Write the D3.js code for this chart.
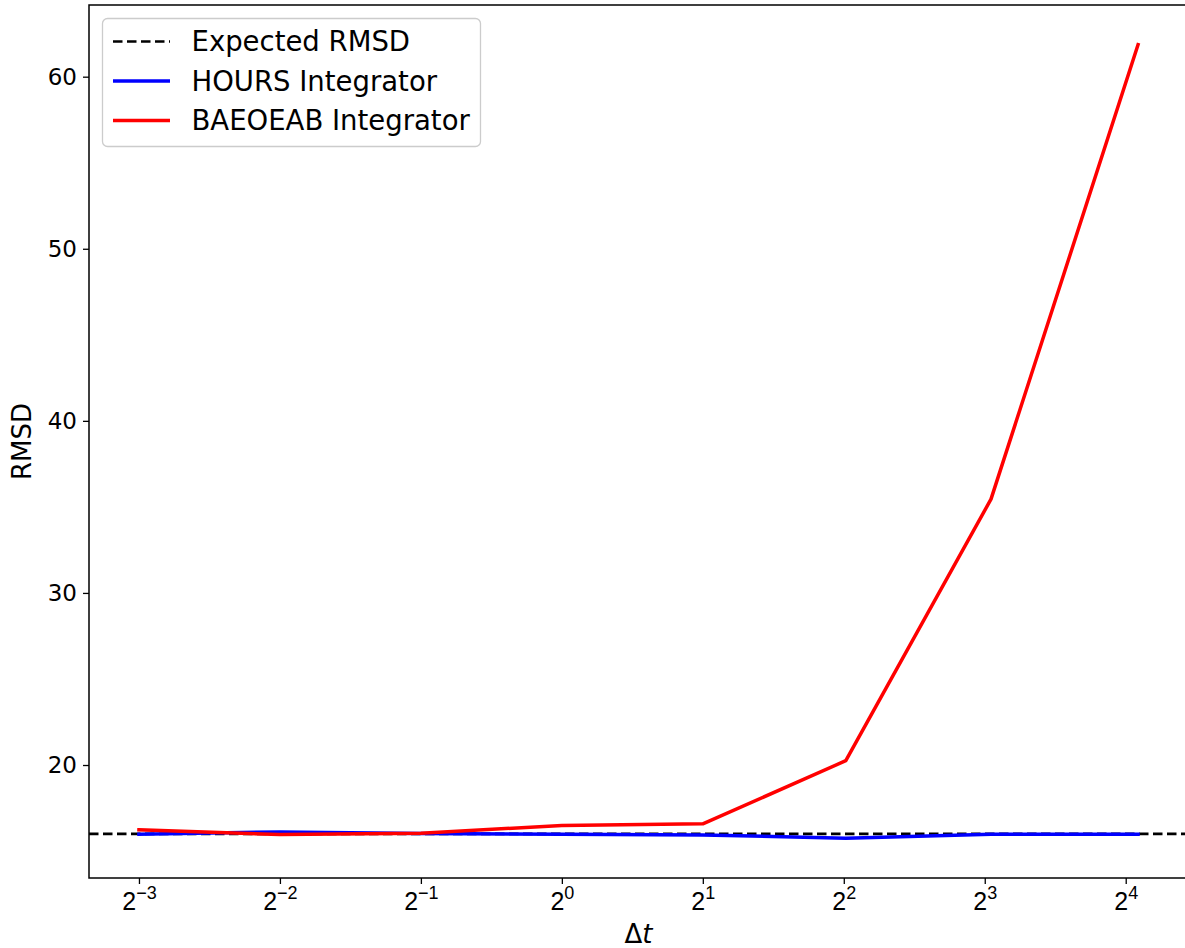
<!DOCTYPE html>
<html>
<head>
<meta charset="utf-8">
<script src="https://cdn.jsdelivr.net/npm/d3@7"></script>
<style>
  html, body { margin: 0; padding: 0; background: #fff; }
  svg { display: block; font-family: "DejaVu Sans", sans-serif; }
</style>
</head>
<body>
<svg id="chart" width="1185" height="948"></svg>
<script>
// Time steps (Δt) and RMSD per integrator
const timeSteps = [0.125, 0.25, 0.5, 1, 2, 4.04, 8.25, 17.0];
const hoursRMSD = [15.98, 16.11, 16.02, 15.97, 15.94, 15.74, 15.98, 15.98];
const baeoeabRMSD = [16.24, 15.96, 16.03, 16.49, 16.58, 20.25, 35.45, 61.86];
const expectedRMSD = 16.0;
const xTickExponents = [-3, -2, -1, 0, 1, 2, 3, 4];
const yTicks = [20, 30, 40, 50, 60];
const legendLabels = ["Expected RMSD", "HOURS Integrator", "BAEOEAB Integrator"];

const svg = d3.select("#chart");
const margin = { top: 5, left: 89 };
const plotW = 1099, plotH = 873;

// autoscale with 5% padding, in log2 space for x
const lx = timeSteps.map(Math.log2);
const lxMin = d3.min(lx), lxMax = d3.max(lx), lxPad = (lxMax - lxMin) * 0.05;
const x = d3.scaleLog().base(2)
  .domain([Math.pow(2, lxMin - lxPad), Math.pow(2, lxMax + lxPad)])
  .range([margin.left, margin.left + plotW]);

const allY = hoursRMSD.concat(baeoeabRMSD);
const yMin = d3.min(allY), yMax = d3.max(allY), yPad = (yMax - yMin) * 0.05;
const y = d3.scaleLinear()
  .domain([yMin - yPad, yMax + yPad])
  .range([margin.top + plotH, margin.top]);

const defs = svg.append("defs");
defs.append("clipPath").attr("id", "plotclip")
  .append("rect").attr("x", margin.left).attr("y", margin.top)
  .attr("width", plotW).attr("height", plotH);

const plot = svg.append("g").attr("clip-path", "url(#plotclip)");

// expected reference line across the whole axes
plot.append("line")
  .attr("x1", margin.left).attr("x2", margin.left + plotW)
  .attr("y1", y(expectedRMSD)).attr("y2", y(expectedRMSD))
  .attr("stroke", "#000").attr("stroke-width", 2.6)
  .attr("stroke-dasharray", "9.5,4.5");

const line = d3.line().x((d, i) => x(timeSteps[i])).y(d => y(d));

plot.append("path").datum(hoursRMSD)
  .attr("d", line).attr("fill", "none")
  .attr("stroke", "#0000ff").attr("stroke-width", 3.5)
  .attr("stroke-linecap", "square").attr("stroke-linejoin", "round");

plot.append("path").datum(baeoeabRMSD)
  .attr("d", line).attr("fill", "none")
  .attr("stroke", "#ff0000").attr("stroke-width", 3.5)
  .attr("stroke-linecap", "square").attr("stroke-linejoin", "round");

// axes
const xAxis = d3.axisBottom(x)
  .tickValues(xTickExponents.map(e => Math.pow(2, e)))
  .tickSize(6).tickPadding(6).tickFormat("");
const gx = svg.append("g")
  .attr("transform", `translate(0,${margin.top + plotH})`)
  .call(xAxis);
gx.select(".domain").remove();
gx.selectAll(".tick line").attr("stroke-width", 1.3);

// power-of-two labels with superscript exponents
gx.selectAll(".tick").each(function(d, i) {
  const e = xTickExponents[i];
  const t = d3.select(this).append("text")
    .attr("fill", "#000").attr("text-anchor", "middle")
    .attr("y", 32).style("font-size", "25px");
  t.append("tspan").text("2");
  t.append("tspan").attr("dy", -11).style("font-size", "18px")
    .text(e < 0 ? "\u2212" + Math.abs(e) : String(e));
});

const yAxis = d3.axisLeft(y).tickValues(yTicks).tickSize(6).tickPadding(6);
const gy = svg.append("g")
  .attr("transform", `translate(${margin.left},0)`)
  .call(yAxis);
gy.select(".domain").remove();
gy.selectAll(".tick line").attr("stroke-width", 1.3);
gy.selectAll(".tick text").style("font-size", "23px").attr("fill", "#000")
  .attr("font-family", "DejaVu Sans");

// spines
svg.append("rect")
  .attr("x", margin.left).attr("y", margin.top)
  .attr("width", plotW).attr("height", plotH)
  .attr("fill", "none").attr("stroke", "#000").attr("stroke-width", 1.5);

// axis labels
const xl = svg.append("text")
  .attr("x", margin.left + plotW / 2).attr("y", 943)
  .attr("text-anchor", "middle").style("font-size", "26px");
xl.append("tspan").text("\u0394");
xl.append("tspan").style("font-style", "italic").text("t");

svg.append("text")
  .attr("transform", `translate(31,${margin.top + plotH / 2}) rotate(-90)`)
  .attr("text-anchor", "middle").style("font-size", "26px")
  .text("RMSD");

// legend
const lg = svg.append("g");
lg.append("rect")
  .attr("x", 102.5).attr("y", 18.5).attr("width", 378).attr("height", 128)
  .attr("rx", 5).attr("fill", "#fff").attr("fill-opacity", 0.8)
  .attr("stroke", "#cccccc").attr("stroke-width", 1.3);
const legendStyles = [
  { color: "#000", dash: "9.5,4.5", w: 2.6 },
  { color: "#0000ff", dash: null, w: 3.5 },
  { color: "#ff0000", dash: null, w: 3.5 }
];
legendLabels.forEach((lab, i) => {
  const cy = 41.5 + i * 39.5;
  const s = legendStyles[i];
  const l = lg.append("line")
    .attr("x1", 113).attr("x2", 170).attr("y1", cy).attr("y2", cy)
    .attr("stroke", s.color).attr("stroke-width", s.w);
  if (s.dash) l.attr("stroke-dasharray", s.dash);
  lg.append("text").attr("x", 191.5).attr("y", cy)
    .attr("dy", "0.36em").style("font-size", "27.5px").text(lab);
});
</script>
</body>
</html>
